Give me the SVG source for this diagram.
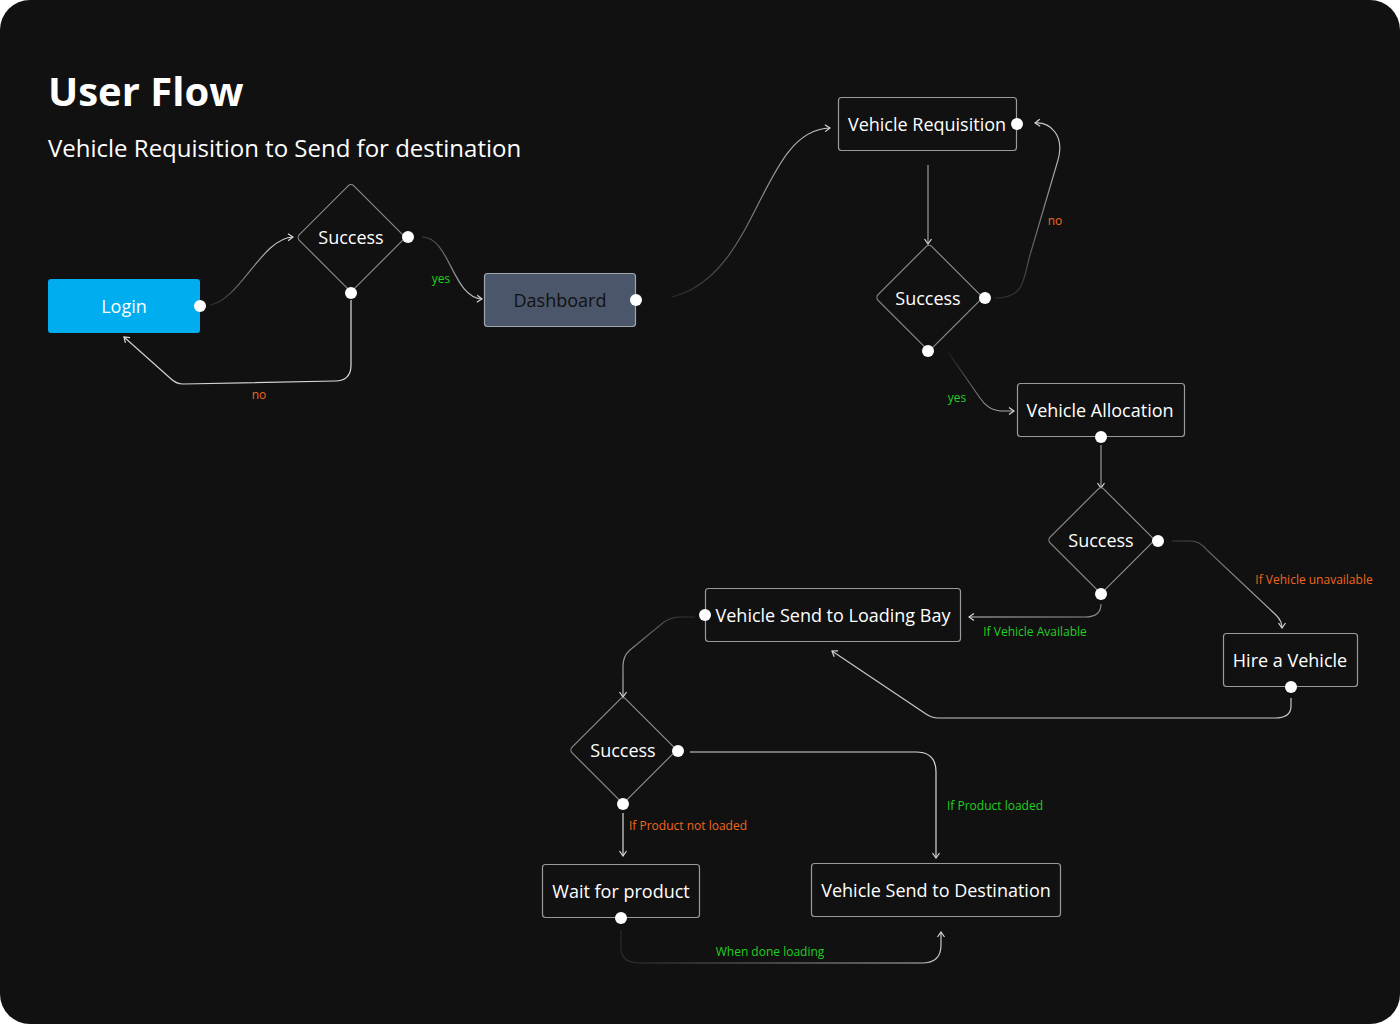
<svg xmlns="http://www.w3.org/2000/svg" width="1400" height="1024" viewBox="0 0 1400 1024">
<style>
.node rect{fill:#111111;stroke:#9a9a9a;stroke-width:1.2}
.node rect.dia{stroke:#8a8a8a}
.lbl{font-family:"Open Sans","Noto Sans",sans-serif;font-size:18px;fill:#ffffff;text-anchor:middle;dominant-baseline:central}
.dot{fill:#ffffff}
.c{fill:none;stroke-width:1.2}
.small{font-family:"Open Sans","Noto Sans",sans-serif;font-size:12px;text-anchor:middle}
.or{fill:#f0661e}
.gr{fill:#22d022}
</style>
<defs>
<marker id="ah" viewBox="0 0 10 10" refX="9" refY="5" markerWidth="10" markerHeight="10" markerUnits="userSpaceOnUse" orient="auto">
<path d="M4,1.5 L9,5 L4,8.5" fill="none" stroke="#d8d8d8" stroke-width="1.2"/>
</marker>
<linearGradient id="g1" gradientUnits="userSpaceOnUse" x1="210" y1="305" x2="292" y2="237"><stop offset="0" stop-color="#2a2a2a"/><stop offset="1" stop-color="#e0e0e0"/></linearGradient>
<linearGradient id="g2" gradientUnits="userSpaceOnUse" x1="420" y1="237" x2="482" y2="299"><stop offset="0" stop-color="#3a3a3a"/><stop offset="1" stop-color="#d0d0d0"/></linearGradient>
<linearGradient id="g3" gradientUnits="userSpaceOnUse" x1="351" y1="300" x2="124" y2="337"><stop offset="0" stop-color="#dddddd"/><stop offset="1" stop-color="#cccccc"/></linearGradient>
<linearGradient id="g4" gradientUnits="userSpaceOnUse" x1="672" y1="297" x2="830" y2="128"><stop offset="0" stop-color="#2a2a2a"/><stop offset="1" stop-color="#c8c8c8"/></linearGradient>
<linearGradient id="g6" gradientUnits="userSpaceOnUse" x1="995" y1="298" x2="1040" y2="124"><stop offset="0" stop-color="#2a2a2a"/><stop offset="1" stop-color="#c8c8c8"/></linearGradient>
<linearGradient id="g7" gradientUnits="userSpaceOnUse" x1="948" y1="352" x2="1014" y2="411"><stop offset="0" stop-color="#1a1a1a"/><stop offset="1" stop-color="#b8b8b8"/></linearGradient>
<linearGradient id="g9" gradientUnits="userSpaceOnUse" x1="1172" y1="541" x2="1282" y2="628"><stop offset="0" stop-color="#3a3a3a"/><stop offset="1" stop-color="#c8c8c8"/></linearGradient>
<linearGradient id="g10" gradientUnits="userSpaceOnUse" x1="1101" y1="604" x2="969" y2="617"><stop offset="0" stop-color="#888888"/><stop offset="1" stop-color="#c8c8c8"/></linearGradient>
<linearGradient id="g12" gradientUnits="userSpaceOnUse" x1="695" y1="617" x2="623" y2="697"><stop offset="0" stop-color="#2a2a2a"/><stop offset="1" stop-color="#b8b8b8"/></linearGradient>
<linearGradient id="g15" gradientUnits="userSpaceOnUse" x1="621" y1="930" x2="941" y2="932"><stop offset="0" stop-color="#2a2a2a"/><stop offset="1" stop-color="#c8c8c8"/></linearGradient>
</defs>
<rect x="0" y="0" width="1400" height="1024" fill="#ffffff"/>
<rect x="0" y="0" width="1400" height="1024" rx="30" fill="#111111"/>
<text x="48" y="106" font-family="'Open Sans','Noto Sans',sans-serif" font-size="40" font-weight="bold" fill="#ffffff">User Flow</text>
<text x="48" y="157" font-family="'Open Sans','Noto Sans',sans-serif" font-size="24" fill="#ffffff">Vehicle Requisition to Send for destination</text>

<g id="connectors">
<path class="c" stroke="url(#g1)" d="M210,305 C240,300 262,238 293,237" marker-end="url(#ah)"/>
<path class="c" stroke="url(#g2)" d="M422,237 C450,237 452,297 482,299" marker-end="url(#ah)"/>
<path class="c" stroke="url(#g3)" d="M351,300 L351,365 Q351,381 335,381 L183,384 Q176,384 170,378 L124,337" marker-end="url(#ah)"/>
<path class="c" stroke="url(#g4)" d="M672,297 C760,275 760,130 830,128" marker-end="url(#ah)"/>
<path class="c" stroke="#9a9a9a" d="M928,165 L928,244" marker-end="url(#ah)"/>
<path class="c" stroke="url(#g6)" d="M995,298 C1025,298 1023,280 1030,255 L1058,160 C1065,135 1050,122 1035,123" marker-end="url(#ah)"/>
<path class="c" stroke="url(#g7)" d="M948,352 L980,398 Q988,410 1000,411 L1014,411" marker-end="url(#ah)"/>
<path class="c" stroke="#9a9a9a" d="M1101,445 L1101,488" marker-end="url(#ah)"/>
<path class="c" stroke="url(#g9)" d="M1172,541 L1190,541 Q1200,541 1207,550 L1276,615 Q1282,621 1282,628" marker-end="url(#ah)"/>
<path class="c" stroke="url(#g10)" d="M1101,604 Q1101,617 1085,617 L969,617" marker-end="url(#ah)"/>
<path class="c" stroke="#c8c8c8" d="M1291,698 L1291,706 Q1291,718 1275,718 L938,718 Q932,718 926,714 L832,651" marker-end="url(#ah)"/>
<path class="c" stroke="url(#g12)" d="M695,617 L680,617 Q672,617 664,622 L630,650 Q623,656 623,666 L623,697" marker-end="url(#ah)"/>
<path class="c" stroke="#d8d8d8" d="M690,752 L916,752 Q936,752 936,772 L936,858" marker-end="url(#ah)"/>
<path class="c" stroke="#dddddd" d="M623,813 L623,856" marker-end="url(#ah)"/>
<path class="c" stroke="url(#g15)" d="M621,930 L621,948 Q621,963 640,963 L922,963 Q941,963 941,945 L941,932" marker-end="url(#ah)"/>
<text class="small gr" x="441" y="283">yes</text>
<text class="small or" x="259" y="399">no</text>
<text class="small or" x="1055" y="225">no</text>
<text class="small gr" x="957" y="402">yes</text>
<text class="small or" x="1314" y="584">If Vehicle unavailable</text>
<text class="small gr" x="1035" y="636">If Vehicle Available</text>
<text class="small gr" x="995" y="810">If Product loaded</text>
<text class="small or" x="688" y="830">If Product not loaded</text>
<text class="small gr" x="770" y="956">When done loading</text>
</g>

<g id="login"><rect x="48" y="279" width="152" height="54" rx="3" fill="#00aeef"/><text class="lbl" x="124" y="306">Login</text><circle class="dot" cx="200" cy="306" r="6"/></g>
<g id="success1" class="node"><rect class="dia" x="-38.5" y="-38.5" width="77" height="77" rx="4" transform="translate(351,237.5) rotate(45)"/><text class="lbl" x="351" y="237">Success</text><circle class="dot" cx="408" cy="237" r="6"/><circle class="dot" cx="351" cy="293" r="6"/></g>
<g id="dashboard"><rect x="484.5" y="273.5" width="151" height="53" rx="3" fill="#4b566b" stroke="#a0a6b0" stroke-width="1.2"/><text class="lbl" x="560" y="300" style="fill:#111111">Dashboard</text><circle class="dot" cx="636" cy="300" r="6"/></g>
<g id="vehicle-requisition" class="node"><rect x="838.5" y="97.5" width="178" height="53" rx="3"/><text class="lbl" x="927" y="124">Vehicle Requisition</text><circle class="dot" cx="1017" cy="124" r="6"/></g>
<g id="success2" class="node"><rect class="dia" x="-38" y="-38" width="76" height="76" rx="4" transform="translate(929,297.5) rotate(45)"/><text class="lbl" x="928" y="298">Success</text><circle class="dot" cx="985" cy="298" r="6"/><circle class="dot" cx="928" cy="351" r="6"/></g>
<g id="vehicle-allocation" class="node"><rect x="1017.5" y="383.5" width="167" height="53" rx="3"/><text class="lbl" x="1100" y="410">Vehicle Allocation</text><circle class="dot" cx="1101" cy="437" r="6"/></g>
<g id="success3" class="node"><rect class="dia" x="-38" y="-38" width="76" height="76" rx="4" transform="translate(1101,540) rotate(45)"/><text class="lbl" x="1101" y="540">Success</text><circle class="dot" cx="1158" cy="541" r="6"/><circle class="dot" cx="1101" cy="594" r="6"/></g>
<g id="vehicle-send-loading-bay" class="node"><rect x="705.5" y="588.5" width="255" height="53" rx="3"/><text class="lbl" x="833" y="615">Vehicle Send to Loading Bay</text><circle class="dot" cx="705" cy="615" r="6"/></g>
<g id="hire-vehicle" class="node"><rect x="1223.5" y="633.5" width="134" height="53" rx="3"/><text class="lbl" x="1290" y="660">Hire a Vehicle</text><circle class="dot" cx="1291" cy="687" r="6"/></g>
<g id="success4" class="node"><rect class="dia" x="-38" y="-38" width="76" height="76" rx="4" transform="translate(623,750) rotate(45)"/><text class="lbl" x="623" y="750">Success</text><circle class="dot" cx="678" cy="751" r="6"/><circle class="dot" cx="623" cy="804" r="6"/></g>
<g id="wait-for-product" class="node"><rect x="542.5" y="864.5" width="157" height="53" rx="3"/><text class="lbl" x="621" y="891">Wait for product</text><circle class="dot" cx="621" cy="918" r="6"/></g>
<g id="vehicle-send-destination" class="node"><rect x="811.5" y="863.5" width="249" height="53" rx="3"/><text class="lbl" x="936" y="890">Vehicle Send to Destination</text></g>
</svg>
